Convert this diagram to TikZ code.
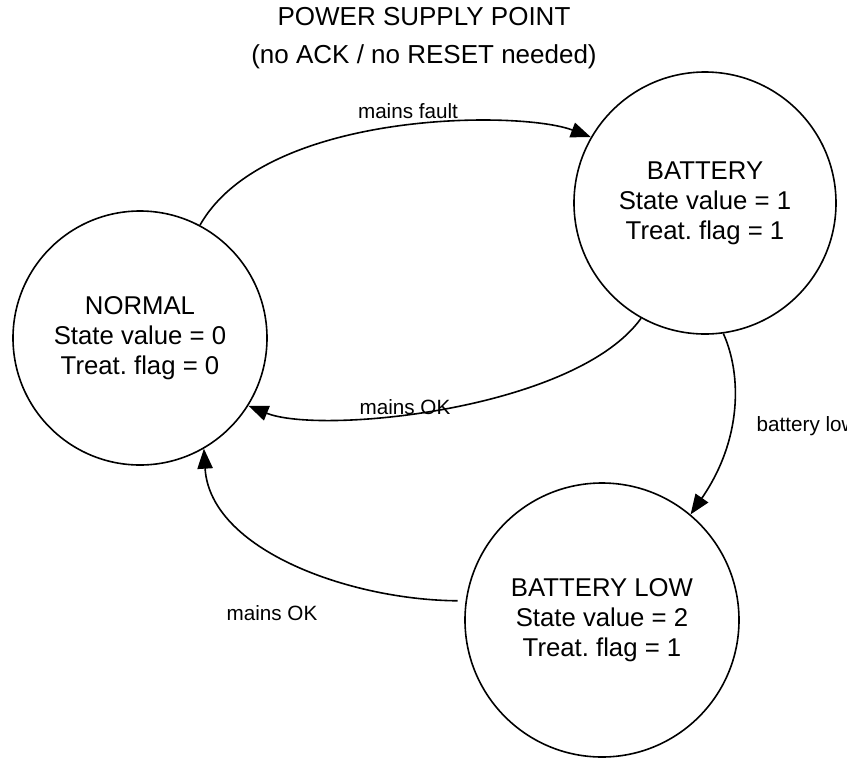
\documentclass[tikz,border=0pt]{standalone}
\usepackage{fontspec}
\setmainfont{Liberation Sans}
\usetikzlibrary{arrows.meta}
\frenchspacing

\begin{document}
\begin{tikzpicture}[x=0.75pt,y=-0.75pt,
  state/.style={draw,circle,line width=1.2pt,inner sep=0pt,align=center,
    font=\fontsize{19.3}{22.5}\selectfont},
  trans/.style={line width=1.2pt,-{Triangle[length=15pt,width=11.5pt]}},
  lbl/.style={font=\fontsize{15.5}{18}\selectfont}]
  \useasboundingbox (0,0) rectangle (847,758);
  \node[align=center,font=\fontsize{19.5}{28.5}\selectfont] (title) at (424,38)
    {POWER SUPPLY POINT\\(no ACK / no RESET needed)};

  % states
  \node[state,minimum size=190.5pt] (normal) at (140,338)
    {NORMAL\\State value = 0\\Treat. flag = 0};
  \node[state,minimum size=196.5pt] (battery) at (705,203)
    {BATTERY\\State value = 1\\Treat. flag = 1};
  \node[state,minimum size=205.5pt] (batlow) at (602,620)
    {BATTERY LOW\\State value = 2\\Treat. flag = 1};

  % transitions
  \draw[trans] (normal.62) .. controls (265,110) and (520,110) .. (battery.150);
  \node[lbl] (faultlbl) at (408,111) {mains fault};
  \draw[trans] (battery.241) .. controls (575,410) and (320,435) .. (normal.328);
  \node[lbl] (oklbl) at (405,407) {mains OK};
  \draw[trans] (battery.278) .. controls (742,375) and (742,440) .. (batlow.50);
  \node[lbl,anchor=west] (lowlbl) at (752,426) {battery low};
  \draw[trans,shorten <=6pt] (batlow.172) .. controls (350,600) and (210,550) .. (normal.300);
  \node[lbl] (oklbl2) at (272,613) {mains OK};
\end{tikzpicture}
\end{document}
